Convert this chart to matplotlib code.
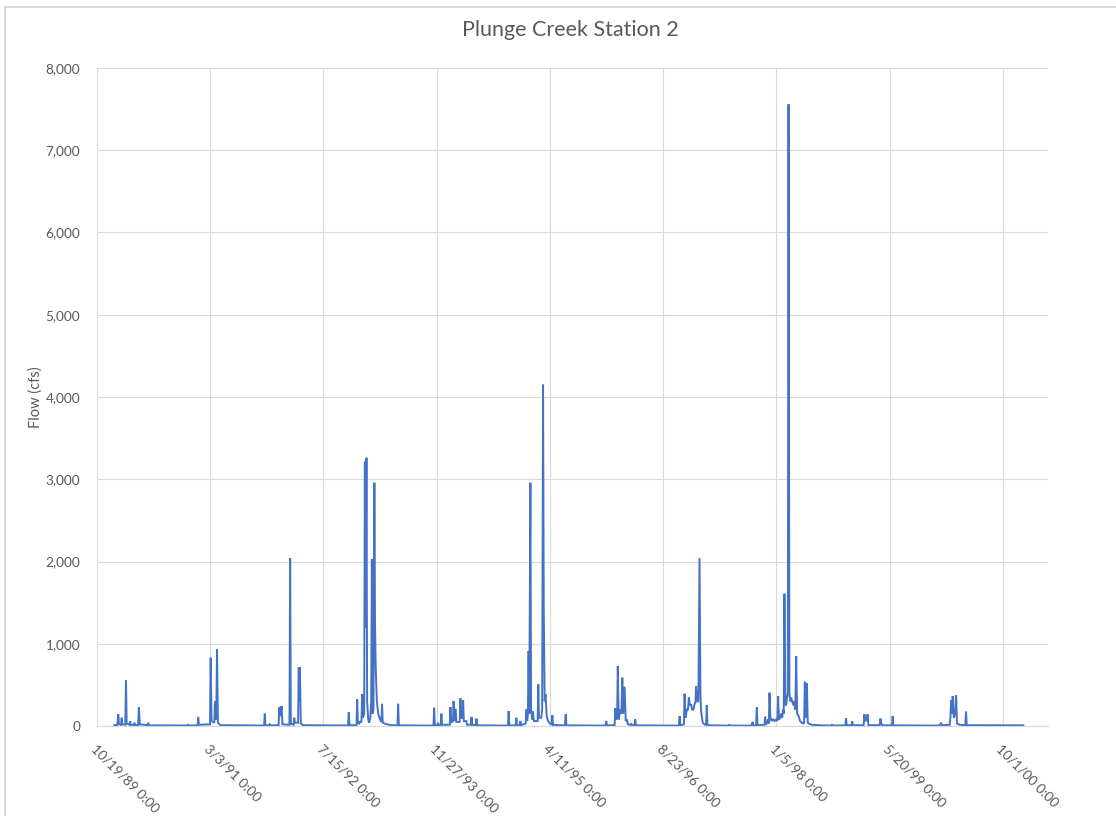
#!/usr/bin/env python3
import datetime as dt
import matplotlib
matplotlib.use("Agg")
import matplotlib.pyplot as plt
from matplotlib.lines import Line2D
from matplotlib.ticker import FuncFormatter, MultipleLocator

# Excel date serials (days since 1899-12-30) and daily flow,
# ten points per row so the two lists line up
day_serial = [
    32876, 32890, 32894, 32897, 32906, 32909, 32912, 32925, 32928, 32931,
    32944, 32946, 32949, 32963, 32965, 32968, 32982, 32985, 32989, 33024,
    33026, 33029, 33200, 33203, 33206, 33244, 33247, 33250, 33299, 33302,
    33306, 33318, 33321, 33325, 33327, 33330, 33334, 33345, 33538, 33541,
    33544, 33560, 33563, 33566, 33602, 33605, 33608, 33612, 33615, 33619,
    33650, 33653, 33656, 33668, 33671, 33674, 33688, 33691, 33694, 33696,
    33700, 33710, 33909, 33912, 33915, 33946, 33949, 33952, 33958, 33961,
    33964, 33968, 33971, 33974, 33980, 33983, 33986, 33988, 33990, 33993,
    33998, 34002, 34007, 34011, 34014, 34017, 34021, 34025, 34028, 34031,
    34036, 34042, 34050, 34056, 34059, 34062, 34075, 34095, 34127, 34130,
    34133, 34286, 34289, 34292, 34303, 34306, 34309, 34318, 34321, 34324,
    34358, 34361, 34364, 34372, 34375, 34378, 34384, 34387, 34402, 34405,
    34408, 34414, 34417, 34420, 34431, 34434, 34451, 34454, 34457, 34473,
    34476, 34479, 34615, 34618, 34621, 34649, 34652, 34655, 34667, 34670,
    34673, 34693, 34696, 34700, 34703, 34706, 34709, 34714, 34717, 34722,
    34725, 34730, 34746, 34749, 34752, 34762, 34766, 34770, 34773, 34777,
    34781, 34786, 34792, 34800, 34808, 34811, 34814, 34840, 34867, 34870,
    34873, 35046, 35049, 35052, 35086, 35089, 35093, 35097, 35100, 35104,
    35111, 35116, 35120, 35124, 35130, 35135, 35140, 35145, 35156, 35159,
    35162, 35174, 35177, 35180, 35370, 35373, 35376, 35392, 35395, 35399,
    35402, 35406, 35410, 35414, 35418, 35424, 35428, 35434, 35439, 35443,
    35446, 35450, 35456, 35461, 35465, 35468, 35475, 35485, 35490, 35493,
    35496, 35510, 35590, 35593, 35596, 35690, 35693, 35696, 35699, 35711,
    35714, 35717, 35748, 35751, 35754, 35760, 35764, 35767, 35770, 35774,
    35779, 35783, 35788, 35792, 35800, 35805, 35808, 35812, 35818, 35822,
    35826, 35830, 35833, 35836, 35840, 35843, 35848, 35851, 35854, 35858,
    35862, 35866, 35870, 35876, 35880, 35884, 35888, 35892, 35899, 35905,
    35912, 35920, 35923, 35926, 35930, 35935, 35939, 35944, 35955, 36000,
    36044, 36047, 36050, 36105, 36108, 36111, 36132, 36135, 36138, 36186,
    36189, 36193, 36198, 36200, 36203, 36207, 36257, 36260, 36264, 36268,
    36311, 36314, 36317, 36520, 36528, 36531, 36566, 36569, 36572, 36576,
    36579, 36584, 36590, 36594, 36598, 36610, 36635, 36638, 36641, 36891,
]
flow_cfs = [
    10, 12, 142, 25, 15, 100, 20, 15, 555, 30,
    15, 60, 15, 12, 40, 12, 12, 230, 20, 10,
    40, 8, 6, 20, 6, 8, 110, 15, 20, 830,
    60, 40, 300, 80, 150, 930, 40, 10, 6, 150,
    8, 8, 20, 8, 10, 230, 120, 150, 243, 20,
    15, 2040, 30, 15, 100, 40, 40, 710, 300, 717,
    30, 10, 6, 170, 10, 10, 324, 40, 30, 60,
    40, 60, 385, 100, 150, 3214, 1200, 1800, 3262, 300,
    80, 40, 100, 300, 2026, 150, 200, 2958, 1200, 710,
    300, 150, 80, 50, 270, 40, 25, 12, 8, 270,
    8, 5, 222, 10, 8, 40, 8, 10, 150, 15,
    15, 230, 40, 60, 304, 60, 210, 50, 50, 336,
    100, 100, 312, 60, 60, 15, 15, 110, 15, 10,
    90, 8, 5, 182, 8, 8, 100, 10, 10, 60,
    10, 30, 200, 60, 150, 912, 150, 2958, 200, 80,
    180, 60, 60, 506, 100, 100, 200, 4150, 1459, 300,
    385, 120, 60, 30, 20, 134, 15, 10, 8, 142,
    8, 5, 60, 8, 10, 215, 80, 100, 730, 80,
    200, 150, 588, 150, 478, 60, 80, 20, 15, 30,
    15, 10, 80, 8, 5, 120, 10, 20, 393, 100,
    150, 200, 200, 352, 250, 263, 200, 200, 263, 300,
    486, 300, 300, 2040, 400, 180, 40, 15, 15, 255,
    15, 8, 5, 20, 5, 5, 30, 50, 5, 10,
    230, 10, 15, 113, 20, 40, 80, 30, 405, 100,
    60, 80, 80, 60, 80, 60, 365, 80, 100, 150,
    100, 200, 150, 1609, 300, 250, 350, 400, 7560, 400,
    300, 344, 300, 250, 300, 200, 851, 150, 120, 60,
    40, 30, 40, 539, 100, 523, 40, 30, 15, 8,
    5, 20, 5, 8, 93, 10, 10, 60, 10, 10,
    142, 60, 80, 60, 142, 10, 10, 90, 30, 10,
    8, 122, 8, 5, 40, 10, 15, 100, 312, 150,
    365, 100, 150, 377, 30, 15, 10, 174, 10, 8,
]

title = "Plunge Creek Station 2"
y_label = "Flow (cfs)"
x_start = 32800  # 10/19/89
x_end = 37000
x_step = 500

GRAY_TEXT = "#595959"
GRID = "#D9D9D9"
LINE_BLUE = "#4472C4"
FONT = ["Lato", "DejaVu Sans"]


def serial_label(val, pos):
    d = dt.date(1899, 12, 30) + dt.timedelta(days=int(round(val)))
    return f"{d.month}/{d.day}/{d.year % 100:02d} 0:00"


def main():
    plt.rcParams["font.family"] = FONT
    fig = plt.figure(figsize=(11.16, 8.16), dpi=100)
    ax = fig.add_axes([97 / 1116, 1 - 726 / 816, (1048 - 97) / 1116, (726 - 68) / 816])

    ax.plot(day_serial, flow_cfs, color=LINE_BLUE, lw=1.4, solid_joinstyle="miter")

    ax.set_xlim(x_start, x_end)
    ax.set_ylim(0, 8000)
    ax.xaxis.set_major_locator(MultipleLocator(x_step, offset=x_start % x_step))
    ax.xaxis.set_major_formatter(FuncFormatter(serial_label))
    ax.yaxis.set_major_locator(MultipleLocator(1000))
    ax.yaxis.set_major_formatter(FuncFormatter(lambda v, p: f"{int(v):,}"))

    ax.grid(True, color=GRID, lw=0.8)
    ax.set_axisbelow(True)
    for side in ["top", "right", "left"]:
        ax.spines[side].set_visible(False)
    ax.spines["bottom"].set_color(GRID)
    ax.spines["bottom"].set_linewidth(0.8)

    ax.tick_params(axis="both", length=0, colors=GRAY_TEXT, labelsize=9.8)
    ax.tick_params(axis="y", pad=12)
    for lab in ax.get_xticklabels():
        lab.set_rotation(-45)
        lab.set_ha("left")
        lab.set_va("top")
        lab.set_rotation_mode("anchor")
    ax.tick_params(axis="x", pad=12)

    fig.text(570 / 1116, 1 - 30 / 816, title, ha="center", va="center",
             fontsize=15.5, color=GRAY_TEXT)
    fig.text(36 / 1116, 1 - 397 / 816, y_label, ha="center", va="center",
             rotation=90, fontsize=10.5, color=GRAY_TEXT)

    # chart frame (top and left edges visible in the screenshot)
    fig.add_artist(Line2D([5 / 1116, 1], [1 - 7 / 816, 1 - 7 / 816],
                          transform=fig.transFigure, color="#D0D0D0", lw=1.2))
    fig.add_artist(Line2D([5 / 1116, 5 / 1116], [0, 1 - 7 / 816],
                          transform=fig.transFigure, color="#D0D0D0", lw=1.2))

    fig.savefig("out.png", dpi=100, facecolor="white")
    plt.close(fig)


if __name__ == "__main__":
    main()
